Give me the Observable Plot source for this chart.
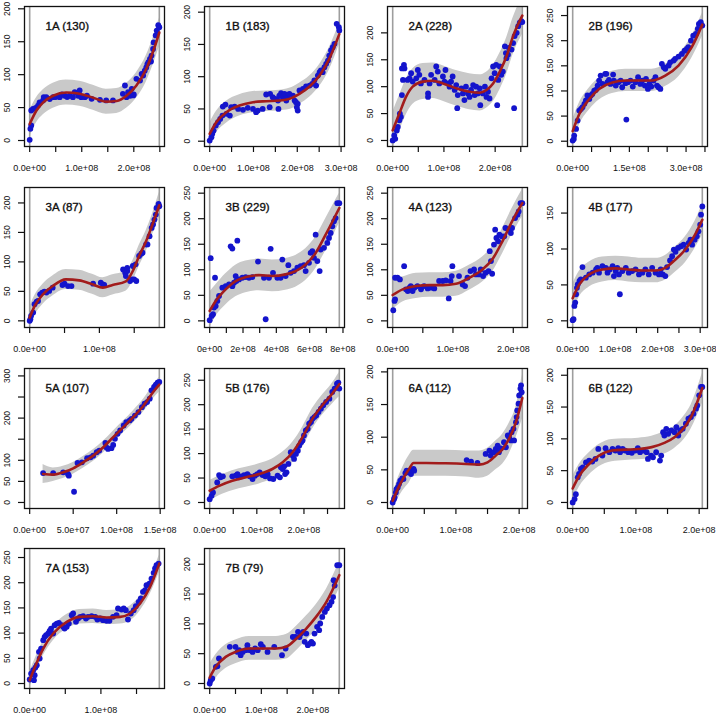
<!DOCTYPE html>
<html><head><meta charset="utf-8">
<script src="https://cdn.jsdelivr.net/npm/d3@7"></script>
<script src="https://cdn.jsdelivr.net/npm/@observablehq/plot@0.6"></script>
<style>
body{margin:0;background:#fff;}
#wrap{position:relative;width:716px;height:715px;overflow:hidden;background:#fff;}
#wrap svg{position:absolute;overflow:visible;}
</style></head><body><div id="wrap"></div>
<script>
// x values are in units of 1e8
const panelIds = ["1A","1B","2A","2B","3A","3B","4A","4B","5A","5B","6A","6B","7A","7B"];
const panelCounts = [130,183,228,196,87,229,123,177,107,176,112,122,153,79];
const xMax = [2.49,2.96,2.53,3.43,1.86,7.78,2.15,3.05,1.49,2.75,2.05,2.05,1.82,2.51];
const yDomLow = [-9.1,-8.2,-11.2,-10.5,-11.3,-13,-13,-9.3,-14.3,-12.3,-9.2,-9.5,-9.9,-8.4];
const yDomHigh = [203.5,208.8,249,268,226.2,261.1,261.1,185.6,317.6,274,205.2,210.6,267.9,226.4];

const xTickVals = [
  [0,0.5,1,1.5,2,2.5],[0,0.5,1,1.5,2,2.5,3],[0,0.5,1,1.5,2,2.5],[0,0.5,1,1.5,2,2.5,3,3.5],
  [0,0.5,1,1.5],[0,1,2,3,4,5,6,7,8],[0,0.5,1,1.5,2],[0,0.5,1,1.5,2,2.5,3],
  [0,0.5,1,1.5],[0,0.5,1,1.5,2,2.5],[0,0.5,1,1.5,2],[0,0.5,1,1.5,2],
  [0,0.5,1,1.5],[0,0.5,1,1.5,2,2.5]
];
const xTickLabels = [
  ["0.0e+00","","1.0e+08","","2.0e+08",""],
  ["0.0e+00","","1.0e+08","","2.0e+08","","3.0e+08"],
  ["0.0e+00","","1.0e+08","","2.0e+08",""],
  ["0.0e+00","","","1.5e+08","","","3.0e+08",""],
  ["0.0e+00","","1.0e+08",""],
  ["0e+00","","2e+08","","4e+08","","6e+08","","8e+08"],
  ["0.0e+00","","1.0e+08","","2.0e+08"],
  ["0.0e+00","","1.0e+08","","2.0e+08","","3.0e+08"],
  ["0.0e+00","5.0e+07","1.0e+08","1.5e+08"],
  ["0.0e+00","","1.0e+08","","2.0e+08",""],
  ["0.0e+00","","1.0e+08","","2.0e+08"],
  ["0.0e+00","","1.0e+08","","2.0e+08"],
  ["0.0e+00","","1.0e+08",""],
  ["0.0e+00","","1.0e+08","","2.0e+08",""]
];
const yTickVals = [
  [0,50,100,150,200],[0,50,100,150,200],[0,50,100,150,200],[0,50,100,150,200,250],
  [0,50,100,150,200],[0,50,100,150,200,250],[0,50,100,150,200,250],[0,50,100,150],
  [0,50,100,150,200,250,300],[0,50,100,150,200,250],[0,50,100,150,200],[0,50,100,150,200],
  [0,50,100,150,200,250],[0,50,100,150,200]
];
const yTickLabels = [
  ["0","50","100","150","200"],["0","50","100","150","200"],["0","50","100","150","200"],["0","50","100","150","200","250"],
  ["0","50","100","150","200"],["0","50","100","150","200","250"],["0","50","100","150","200","250"],["0","50","100","150"],
  ["0","50","100","","200","","300"],["0","50","100","150","200","250"],["0","50","100","150","200"],["0","50","100","150","200"],
  ["0","50","100","150","200","250"],["0","50","100","150","200"]
];

// fitted curve: [x, fit, lower, upper]
const fit1A = [[0,25,5,45],[0.13,45.6,27,65],[0.26,58,39,77],[0.45,68,49,87],[0.7,73,54,92],[0.96,71,52,90],[1.22,65,46,84],[1.47,59,40,78],[1.67,60,41,79],[1.86,68,49,87],[2.05,83.5,64,103],[2.24,109,89,129],[2.4,142,121,163],[2.49,164,142,186]];
const fit1B = [[0,11.4,-5,28],[0.15,29.5,13,46],[0.38,45,28,62],[0.68,55.3,39,72],[0.99,60.5,44,77],[1.29,62,46,78],[1.59,63,47,79],[1.82,65.6,49,82],[2.05,73.4,57,90],[2.28,84.8,68,101],[2.51,101.8,85,119],[2.73,127.6,110,145],[2.96,166,150,182]];
const fit2A = [[0,18.75,-15,52],[0.13,50,17,83],[0.26,81,47,114],[0.39,100,67,133],[0.59,109.4,76,143],[0.78,111,78,144],[0.98,106,73,139],[1.24,97,64,130],[1.5,90.6,57,124],[1.7,88.75,55,122],[1.83,93.75,60,127],[1.96,106,72,140],[2.09,128,94,162],[2.22,156,122,190],[2.35,194,160,228],[2.53,232,197,268]];
const fit2B = [[0,20,-3,43],[0.175,54,32,76],[0.44,84,62,106],[0.7,104,82,126],[1.05,117,95,139],[1.4,120.7,99,143],[1.75,120.7,99,143],[2.1,120.7,99,143],[2.45,130.6,109,153],[2.8,150.5,128,173],[3.15,187,165,209],[3.43,232,209,255]];
const fit3A = [[0,5.6,-12,23],[0.07,25,8,42],[0.19,45,28,62],[0.33,59,42,76],[0.52,70.4,53,87],[0.71,68.7,52,86],[0.9,62,45,79],[1.05,56.3,39,73],[1.19,60.8,44,78],[1.38,67,50,84],[1.48,84.5,67,102],[1.57,110,92,128],[1.67,135,117,153],[1.76,163,145,181],[1.86,196,176,218]];
const fit3B = [[0,19.5,-14,56],[0.36,39,8,70],[0.96,61.7,31,92],[1.56,78,47,109],[2.16,85.7,55,117],[2.96,89.6,59,121],[3.76,87.7,57,119],[4.56,91,60,122],[5.16,97.4,66,128],[5.76,110.4,79,141],[6.36,133,102,164],[6.96,168.8,137,200],[7.78,221,191,250]];
const fit4A = [[0,50.6,22,82],[0.165,61.7,37,86],[0.39,68.2,44,93],[0.61,70,46,94],[0.83,70,46,94],[1.05,72.7,48,97],[1.27,84.4,60,109],[1.49,100.6,76,125],[1.65,120,95,145],[1.82,155.8,131,181],[1.98,194.8,169,220],[2.15,230.5,204,257]];
const fit4B = [[0,31.4,12,51],[0.156,50.8,33,69],[0.39,64.6,47,82],[0.7,71.5,54,89],[1.01,73,56,90],[1.32,71.5,54,89],[1.64,70,53,87],[1.95,70,53,87],[2.18,73.8,57,91],[2.42,85.4,68,103],[2.65,99.2,81,117],[2.88,120,101,139],[3.05,140.7,119,162]];
const fit5A = [[0.154,67.5,45,90],[0.27,65.9,50,82],[0.385,71.4,57,86],[0.5,81,67,95],[0.615,95.2,81,109],[0.73,111,97,125],[0.846,131,117,145],[0.96,154.8,141,169],[1.077,178.6,165,193],[1.19,202.4,188,217],[1.31,230,215,245],[1.42,262,246,278],[1.49,279.4,262,297]];
const fit5B = [[0,24,3,45],[0.2,34,14,54],[0.48,44.5,24,65],[0.77,51.4,31,72],[1.05,58.2,38,79],[1.33,68.5,48,89],[1.55,82.2,62,103],[1.76,102.7,82,123],[1.97,133.6,113,154],[2.18,171,150,192],[2.4,200,180,221],[2.57,219,198,240],[2.75,242,216,266]];
const fit6A = [[0,2.6,-8,13],[0.08,20.5,5,36],[0.16,35.9,18,54],[0.26,51.3,30,72],[0.33,60.5,40,80],[0.53,60.5,40,80],[0.84,60,40,80],[1.16,59,39,79],[1.37,58,37,79],[1.5,61.5,40,83],[1.63,71.8,50,94],[1.74,82,59,105],[1.84,97.4,74,121],[1.95,123,99,147],[2.05,160,128,196]];
const fit6B = [[0,22,3,41],[0.104,42,24,60],[0.26,60.5,43,78],[0.415,73.7,56,91],[0.62,81.6,64,99],[0.83,83,66,100],[1.04,84,67,101],[1.25,87,70,104],[1.45,93.7,76,111],[1.61,102.6,85,120],[1.77,118.4,100,137],[1.87,134,115,153],[2.05,180,156,203]];
const fit7A = [[0,6.6,-8,22],[0.094,39.7,25,55],[0.19,69.4,55,84],[0.33,99.2,85,113],[0.52,122.4,108,137],[0.7,132.3,118,147],[0.89,133.6,119,148],[1.08,131,117,145],[1.27,132.3,118,147],[1.41,138.9,124,154],[1.55,158.7,144,173],[1.69,191.8,177,207],[1.82,238,221,255]];
const fit7B = [[0,10,-12,32],[0.117,28,8,48],[0.31,44.7,25,65],[0.5,53,33,73],[0.77,58.7,39,79],[1.03,58.7,39,79],[1.29,58.7,39,79],[1.48,61.5,41,82],[1.68,75.4,55,96],[1.87,92.2,72,113],[2.06,111.7,91,132],[2.26,137,116,158],[2.51,181.6,159,204]];

// observed points: [x, y]
const pts1A = [[0,1],[0.013,17.7],[0.03,22.8],[0.03,45.6],[0.064,48],[0.115,49.6],[0.16,53],[0.19,58],[0.256,60.8],[0.27,66],[0.32,65.8],[0.385,63],[0.45,65.8],[0.5,66],[0.577,65.8],[0.62,70],[0.673,68],[0.72,66],[0.77,68],[0.83,65.8],[0.865,73.4],[0.93,68],[0.96,76],[0.99,65.8],[1.06,65.8],[1.1,68],[1.19,63.3],[1.35,61.8],[1.47,60.8],[1.6,60.8],[1.79,70.9],[1.83,83.5],[1.86,65.8],[1.89,73.4],[1.93,68],[1.96,78.5],[1.99,68.4],[2.0,70],[2.05,93.7],[2.12,91],[2.15,101],[2.18,98.7],[2.21,106],[2.24,111],[2.26,116],[2.28,119],[2.31,124],[2.33,120],[2.34,129],[2.37,139],[2.38,149],[2.42,159.5],[2.44,167],[2.47,175],[2.49,172]];
const pts1B = [[0,1],[0.04,6.2],[0.06,11.4],[0.09,16.5],[0.14,24.3],[0.19,29.5],[0.24,34.6],[0.29,39.8],[0.38,42.4],[0.46,39.8],[0.3,53.7],[0.36,56.8],[0.49,52.7],[0.57,53.7],[0.65,50.1],[0.76,48.6],[0.87,51.7],[0.99,50.1],[1.06,45],[1.1,47.5],[1.21,50.1],[1.37,52.7],[1.29,72.4],[1.38,73.4],[1.44,68.2],[1.5,65.6],[1.56,63],[1.59,70.8],[1.63,74.4],[1.67,68.2],[1.71,73.4],[1.75,63],[1.78,68.2],[1.57,50.1],[1.82,73.4],[1.9,70.8],[1.94,63],[1.97,60.5],[2.01,57.9],[2.01,47.5],[1.99,52.7],[2.05,78.6],[2.13,81.1],[2.2,84.8],[2.28,86.3],[2.34,88.9],[2.39,94.1],[2.43,86.3],[2.47,101.8],[2.51,107],[2.54,109.6],[2.58,107],[2.62,114.7],[2.66,119.9],[2.7,125],[2.73,132.8],[2.77,140.6],[2.81,145.7],[2.85,150.9],[2.9,182],[2.95,176.7],[2.96,171.6]];
const pts2A = [[0,0],[0.03,9.4],[0.05,3],[0.08,18.75],[0.1,25],[0.13,37.5],[0.16,43.75],[0.14,50],[0.18,84.4],[0.2,112.5],[0.18,134],[0.22,140.6],[0.23,134],[0.29,112.5],[0.33,115.6],[0.36,125],[0.39,109.4],[0.46,115.6],[0.49,131],[0.52,122],[0.55,106],[0.62,112.5],[0.69,87.5],[0.69,81],[0.72,106],[0.75,122],[0.82,112.5],[0.85,137.5],[0.88,128],[0.91,106],[0.98,119],[1.01,109.4],[1.03,131],[1.08,106],[1.11,100],[1.14,109.4],[1.17,119],[1.21,94],[1.24,103],[1.27,84.4],[1.26,60],[1.34,97],[1.37,87.5],[1.4,75],[1.43,100],[1.47,87.5],[1.5,81],[1.53,94],[1.57,103],[1.6,84.4],[1.63,100],[1.66,87.5],[1.7,97],[1.71,65.6],[1.76,87.5],[1.8,100],[1.83,81],[1.86,90.6],[1.89,78],[1.93,115.6],[1.96,137.5],[1.99,125],[2.02,140.6],[2.04,65.6],[2.06,112.5],[2.09,137.5],[2.12,122],[2.15,128],[2.19,175],[2.21,162.5],[2.22,153],[2.25,159.4],[2.27,172],[2.32,169],[2.35,181],[2.37,60],[2.38,194],[2.42,200],[2.45,212.5],[2.48,219],[2.51,222],[2.53,220]];
const pts2B = [[0,1.3],[0.03,4.6],[0.04,11.3],[0.09,24.5],[0.13,41],[0.175,61],[0.22,64.3],[0.26,67.6],[0.31,74.3],[0.35,81],[0.39,91],[0.44,84],[0.48,91],[0.52,94],[0.57,100.8],[0.61,102],[0.66,110.7],[0.7,120.7],[0.74,130.6],[0.79,114],[0.86,134],[0.89,134],[0.92,117.4],[0.96,122],[1.0,114],[1.07,132.6],[1.09,120.7],[1.14,110.7],[1.21,117.4],[1.27,120.7],[1.31,107.4],[1.4,115.4],[1.42,43],[1.46,117.4],[1.53,120.7],[1.59,108.8],[1.66,117.4],[1.73,127.3],[1.79,114],[1.84,120.7],[1.91,110.7],[1.94,124],[1.99,104],[2.03,114],[2.08,108.8],[2.14,120.7],[2.19,127.3],[2.23,110.7],[2.27,107.4],[2.32,104],[2.36,154],[2.41,147.2],[2.45,144],[2.54,150.5],[2.58,157],[2.67,160.5],[2.71,164],[2.8,168.4],[2.89,173.7],[2.96,180],[3.02,183.7],[3.06,187],[3.13,200],[3.19,210],[3.26,213.5],[3.31,223.5],[3.34,233.4],[3.39,236.7],[3.43,230]];
const pts3A = [[0,0],[0.01,2.8],[0.02,8.5],[0.05,14],[0.07,28.2],[0.1,32.7],[0.12,33.8],[0.15,45],[0.18,47.9],[0.21,49.6],[0.24,47.9],[0.28,50.7],[0.33,56.3],[0.47,60.8],[0.5,63],[0.55,59],[0.6,59],[0.91,63],[1.02,64.8],[1.05,62],[1.07,60.8],[1.34,87.3],[1.37,81.7],[1.38,76],[1.4,84.5],[1.4,90],[1.44,67.6],[1.47,70.4],[1.5,70.4],[1.53,67.6],[1.48,93],[1.52,95.8],[1.57,110],[1.6,113.8],[1.62,115.5],[1.67,129.6],[1.69,129.6],[1.72,143.7],[1.75,157.7],[1.77,163.4],[1.79,171.8],[1.81,180.3],[1.82,191.5],[1.85,198.3],[1.86,194.4]];
const pts3B = [[0,1.3],[0.06,122.7],[0.12,9.7],[0.2,13],[0.26,26],[0.32,84.4],[0.36,29.2],[0.46,39],[0.56,48.7],[0.76,65],[0.96,68],[1.16,71.4],[1.26,146],[1.36,141.6],[1.36,68],[1.46,74.7],[1.56,87.7],[1.66,157],[1.6,78],[1.76,81.2],[1.96,84.4],[2.16,85.7],[2.36,84.4],[2.56,85.7],[2.9,116],[3.26,84.4],[3.36,3.2],[3.56,84.4],[3.66,141],[3.8,94],[4.06,84.4],[4.26,84.4],[4.36,120],[4.56,87.7],[4.72,109],[4.86,94],[5.06,97.4],[5.26,104],[5.46,107],[5.66,109],[5.76,97.4],[5.96,113.6],[6.06,133],[6.16,136.4],[6.26,123.4],[6.36,168.8],[6.46,117],[6.6,97.4],[6.66,139.6],[6.86,143],[7.06,152.6],[7.16,162.3],[7.26,172],[7.36,185],[7.46,194.8],[7.56,201.3],[7.66,230.5],[7.78,230.5]];
const pts4A = [[0.01,20.8],[0.03,39],[0.04,42.2],[0.04,84.4],[0.08,84.4],[0.12,81.2],[0.19,107],[0.22,61.7],[0.25,58.4],[0.28,65],[0.3,68.2],[0.33,58.4],[0.36,65],[0.41,68.2],[0.47,61.7],[0.52,68.2],[0.58,63.6],[0.63,65],[0.69,63.6],[0.77,78],[0.83,78],[0.88,79.2],[0.93,44],[0.96,78],[0.98,87.7],[0.99,107],[1.1,87.7],[1.16,71.4],[1.2,68.2],[1.24,84.4],[1.29,97.4],[1.35,100.6],[1.38,91],[1.43,91],[1.46,100.6],[1.5,87.7],[1.54,94],[1.59,97.4],[1.61,136.4],[1.63,117],[1.65,92.2],[1.68,149.4],[1.7,178.6],[1.72,162.3],[1.75,155.8],[1.77,168.8],[1.81,165.6],[1.85,165.6],[1.87,181.8],[1.92,178.6],[1.96,172],[1.98,181.8],[2.03,201.3],[2.07,207.8],[2.09,214.3],[2.12,230.5],[2.15,230.5]];
const pts4B = [[0,0.9],[0.02,2.3],[0.04,20.8],[0.06,25.4],[0.08,37],[0.1,46],[0.12,50.8],[0.16,55.4],[0.19,57.7],[0.23,74.8],[0.31,60],[0.39,64.6],[0.47,67],[0.55,71.5],[0.58,73.8],[0.62,67],[0.7,76],[0.78,73.8],[0.82,67],[0.87,71.5],[0.94,76],[0.97,62.3],[1.01,69.2],[1.05,73.8],[1.09,64.6],[1.11,37],[1.17,69.2],[1.25,73.8],[1.32,67],[1.4,69.2],[1.48,71.5],[1.56,64.6],[1.64,67],[1.71,71.5],[1.79,64.6],[1.87,73.8],[1.95,67],[2.03,64.6],[2.07,71.5],[2.12,64.6],[2.18,62.3],[2.22,74.8],[2.29,84],[2.34,90],[2.38,99.2],[2.42,96],[2.48,101.5],[2.55,103.8],[2.61,106],[2.67,99.2],[2.73,108.5],[2.77,113],[2.81,106],[2.87,113],[2.92,117.7],[2.96,124.6],[3.0,133.8],[3.02,147.7],[3.05,159.2]];
const pts5A = [[0.154,69.8],[0.27,69.8],[0.385,71.4],[0.44,67.5],[0.45,63.5],[0.51,25.4],[0.55,93.7],[0.6,95.2],[0.66,104.8],[0.7,107],[0.73,111],[0.77,119],[0.8,123],[0.87,141],[0.88,131],[0.9,127],[0.94,128.6],[0.96,136.5],[0.98,150.8],[1.01,162.7],[1.04,170.6],[1.08,182.5],[1.11,190.5],[1.15,194.4],[1.17,198.4],[1.21,206],[1.25,214.3],[1.29,226],[1.32,234],[1.35,238],[1.38,246],[1.4,265.9],[1.43,273.8],[1.45,279.4],[1.47,284],[1.49,285.7]];
const pts5B = [[0,6.8],[0.04,13.7],[0.07,20.5],[0.16,41],[0.2,56],[0.23,51.4],[0.28,53.4],[0.48,53.4],[0.55,54.8],[0.59,58.2],[0.62,51.4],[0.68,53.4],[0.73,56],[0.8,58.2],[0.85,53.4],[0.91,48],[0.96,54.8],[1.01,58.2],[1.06,61.6],[1.12,56],[1.18,53.4],[1.23,58.2],[1.28,49.3],[1.35,48],[1.44,54.8],[1.49,51.4],[1.51,72],[1.55,68.5],[1.58,74],[1.6,58.2],[1.63,61.6],[1.67,78.8],[1.72,102.7],[1.76,96],[1.79,89],[1.83,99.3],[1.87,106],[1.9,116.4],[1.94,123.3],[1.97,126.7],[2.0,137],[2.04,147.3],[2.08,150.7],[2.11,161],[2.15,164.4],[2.18,171],[2.22,174.6],[2.26,178],[2.31,185],[2.36,191.8],[2.41,198.6],[2.47,205.5],[2.54,212.3],[2.6,226],[2.65,232.9],[2.7,243],[2.73,245.2],[2.75,232.9]];
const pts6A = [[0,0],[0.02,5],[0.03,7.7],[0.05,15.4],[0.06,20.5],[0.08,23],[0.1,28.2],[0.12,33.3],[0.15,37],[0.17,35.9],[0.2,45],[0.22,48.7],[0.26,46],[0.29,43.6],[0.31,48.7],[0.33,51.3],[0.34,48.7],[1.17,65],[1.24,62.5],[1.34,60.5],[1.47,74.4],[1.53,79.5],[1.55,71.8],[1.6,77],[1.63,82],[1.66,87],[1.68,77],[1.71,82.8],[1.76,92.3],[1.79,84.6],[1.82,102.6],[1.84,100],[1.87,95],[1.88,107.7],[1.91,112.8],[1.92,95],[1.95,123],[1.96,130.8],[1.97,141],[1.99,151.3],[2.0,164],[2.02,174.4],[2.03,179.5],[2.04,169]];
const pts6B = [[0,0],[0.03,5.3],[0.05,13],[0.08,39.5],[0.1,44.7],[0.13,52.6],[0.16,55.3],[0.21,63],[0.26,65.8],[0.31,64.2],[0.36,68.4],[0.405,84.2],[0.47,73.7],[0.52,85.3],[0.58,79],[0.63,84.2],[0.675,81.6],[0.72,85.3],[0.75,79],[0.79,84.2],[0.83,81.6],[0.88,79],[0.935,78],[0.99,81.6],[1.03,85.3],[1.065,79],[1.12,81.6],[1.17,79],[1.19,68.4],[1.24,73.7],[1.27,71],[1.32,79],[1.38,65.8],[1.4,73.7],[1.43,110.5],[1.45,105.3],[1.48,115.8],[1.51,107.9],[1.56,113.2],[1.61,110.5],[1.64,118.4],[1.67,105.3],[1.7,113.2],[1.74,115.8],[1.79,123.7],[1.83,131.6],[1.87,134.2],[1.91,139.5],[1.95,147.4],[1.97,152.6],[2.0,168.4],[2.03,181.6],[2.05,181.6]];
const pts7A = [[0,8],[0.02,19.8],[0.05,26.5],[0.06,6.6],[0.07,16.5],[0.08,31.7],[0.1,36.4],[0.13,62.8],[0.14,49.6],[0.16,69.4],[0.19,86],[0.21,92.6],[0.23,95.9],[0.26,99.2],[0.28,104.5],[0.3,109],[0.33,99.2],[0.35,115.7],[0.38,119],[0.41,120.4],[0.45,115.7],[0.47,112.4],[0.49,109],[0.52,112.4],[0.55,119],[0.59,135.6],[0.61,138.9],[0.65,122.4],[0.68,129],[0.71,132.3],[0.75,133.6],[0.79,129],[0.82,132.3],[0.87,133.6],[0.92,132.3],[0.95,127],[0.99,129],[1.03,125.7],[1.08,124.3],[1.12,124.3],[1.17,132.3],[1.22,135.6],[1.24,148.8],[1.29,146.8],[1.32,148.8],[1.35,145.5],[1.38,127],[1.42,138.9],[1.46,145.5],[1.49,153.4],[1.53,162],[1.56,168.7],[1.59,181.9],[1.62,185.2],[1.64,195],[1.68,198.4],[1.71,208.3],[1.74,219.6],[1.76,228.2],[1.78,234.8],[1.81,238]];
const pts7B = [[0,0],[0.02,5.6],[0.05,8.4],[0.12,28],[0.15,29],[0.18,42],[0.39,61.5],[0.5,61.5],[0.54,53],[0.57,55.9],[0.6,47.5],[0.64,53],[0.7,55.9],[0.73,64.2],[0.78,55.9],[0.83,53],[0.88,58.7],[0.93,55.9],[0.99,65.9],[1.03,61.5],[1.12,53],[1.25,61.5],[1.4,47.5],[1.47,58.7],[1.61,78],[1.66,78],[1.71,86.6],[1.74,78],[1.77,83.8],[1.81,86.6],[1.84,69.8],[1.87,83.8],[1.9,64.2],[1.94,67],[1.97,69.8],[2.0,67],[2.03,83.8],[2.08,95],[2.12,89.4],[2.14,100.6],[2.18,111.7],[2.23,120],[2.27,125.7],[2.32,131.3],[2.36,137],[2.39,145],[2.4,173.2],[2.42,164.2],[2.47,198.3],[2.51,198.3]];

const fits = [fit1A,fit1B,fit2A,fit2B,fit3A,fit3B,fit4A,fit4B,fit5A,fit5B,fit6A,fit6B,fit7A,fit7B];
const pts = [pts1A,pts1B,pts2A,pts2B,pts3A,pts3B,pts4A,pts4B,pts5A,pts5B,pts6A,pts6B,pts7A,pts7B];

const colLeft = [-2,178,361,541];
const rowTop = [0,181,362,542];
const wrap = document.getElementById("wrap");
const FONT = "'Liberation Sans', Arial, Helvetica, sans-serif";

panelIds.forEach((id, i) => {
  const r = Math.floor(i / 4), c = i % 4;
  const xm = xMax[i];
  const xl = new Map(xTickVals[i].map((v, k) => [v, xTickLabels[i][k]]));
  const yl = new Map(yTickVals[i].map((v, k) => [v, yTickLabels[i][k]]));
  const chart = Plot.plot({
    width: 180, height: 180,
    marginLeft: 26, marginRight: 14, marginTop: 6, marginBottom: 34,
    x: {domain: [-0.04 * xm, 1.04 * xm]},
    y: {domain: [yDomLow[i], yDomHigh[i]]},
    style: {fontFamily: FONT, background: "transparent", overflow: "visible"},
    marks: [
      Plot.areaY(fits[i], {x: d => d[0], y1: d => d[2], y2: d => d[3], fill: "#c9c9c9", curve: "monotone-x", clip: true}),
      Plot.ruleX([0, xm], {stroke: "#9e9e9e", strokeWidth: 1.6}),
      Plot.dot(pts[i], {x: d => d[0], y: d => d[1], r: 2.9, fill: "#1414cc", stroke: "none", clip: true}),
      Plot.line(fits[i], {x: d => d[0], y: d => d[1], stroke: "#a21c1c", strokeWidth: 2.6, curve: "monotone-x", clip: true}),
      Plot.frame({stroke: "#111", strokeWidth: 1.3}),
      Plot.axisX(xTickVals[i], {tickSize: 6, tickPadding: 12, tickFormat: v => xl.get(v), fontSize: 9, label: null, stroke: "#111", strokeWidth: 1.2, fill: "#111"}),
      Plot.axisY(yTickVals[i], {tickSize: 6, tickPadding: 9, tickRotate: -90, tickFormat: v => yl.get(v), fontSize: 8.5, label: null, stroke: "#111", strokeWidth: 1.2, fill: "#111"}),
      Plot.text([`${id} (${panelCounts[i]})`], {frameAnchor: "top-left", dx: 21, dy: 15, textAnchor: "start", fontSize: 11.5, fill: "#111", stroke: "#111", strokeWidth: 0.35})
    ]
  });
  chart.style.left = colLeft[c] + "px";
  chart.style.top = rowTop[r] + "px";
  wrap.appendChild(chart);
});
</script></body></html>
